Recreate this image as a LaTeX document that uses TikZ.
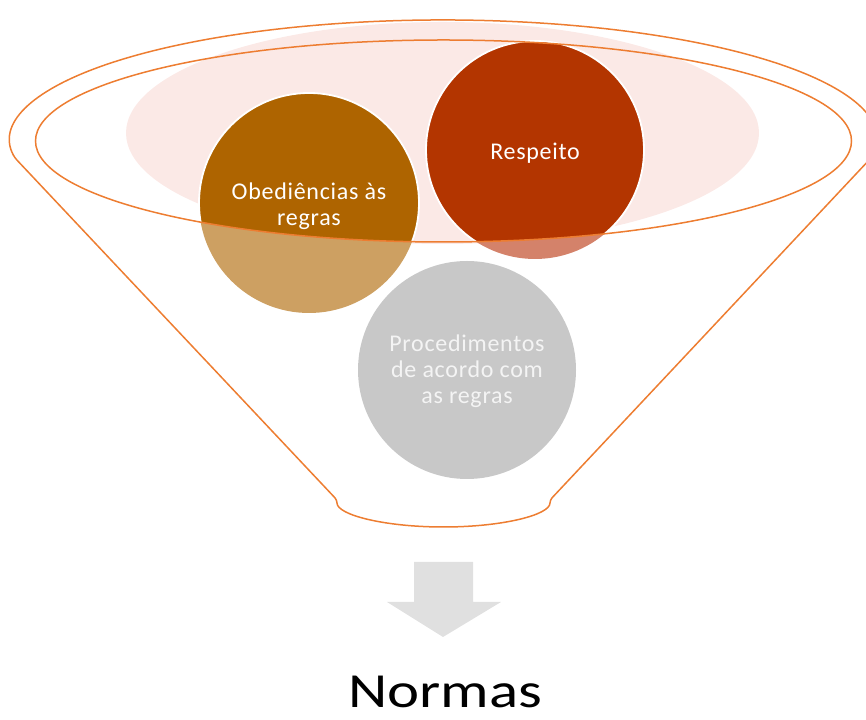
\documentclass[tikz,border=0pt]{standalone}
\usepackage{fontspec}
\setmainfont{Carlito}
\newfontfamily\circfont[LetterSpace=3]{Carlito}
\newfontfamily\bigfont[FakeStretch=1.24]{Carlito}
\definecolor{funnelorange}{HTML}{ED7D31}
\definecolor{pinkfill}{HTML}{FBE9E6}
\definecolor{obedark}{HTML}{AE6400}
\definecolor{obelight}{HTML}{CDA062}
\definecolor{resdark}{HTML}{B33500}
\definecolor{reslight}{HTML}{D4826A}
\definecolor{procgray}{HTML}{C8C8C8}
\definecolor{arrowgray}{HTML}{E0E0E0}
\definecolor{proctext}{HTML}{F4F4F4}
\tikzset{
  circlabel/.style={font=\circfont\fontsize{24}{26}\selectfont, text=white, align=center, inner sep=0pt},
  funnelline/.style={draw=funnelorange, line width=1.5pt},
  ring/.style={draw=white, line width=1.8pt}
}
\begin{document}
\begin{tikzpicture}[x=1pt,y=1pt]
\useasboundingbox (0,0) rectangle (866,719);
\begin{scope}
\clip (0,0) rectangle (866,719);
% pink background ellipse
\fill[pinkfill] (442.5,586) ellipse [x radius=316.5, y radius=111];
% circles, lighter base
\fill[obelight] (309,516) circle [radius=110];
\fill[reslight] (535,569) circle [radius=109];
\node[circle, fill=procgray, minimum size=218pt, inner sep=0pt] (proc) at (467,349) {};
% full colour inside funnel top
\begin{scope}
\clip (0,578) -- (0,719) -- (866,719) -- (866,578) -- (851.5,578)
  arc[start angle=0, end angle=-180, x radius=408, y radius=101] -- cycle;
\node[circle, fill=obedark, ring, minimum size=220pt, inner sep=0pt] (obe) at (309,516) {};
\node[circle, fill=resdark, ring, minimum size=218pt, inner sep=0pt] (res) at (535,569) {};
\end{scope}
% labels
\node[circlabel] (obet) at (309,513) {Obediências às\\regras};
\node[circlabel, anchor=base] (rest) at (535,559) {Respeito};
\node[circlabel, text=proctext] (proct) at (467,348) {Procedimentos\\de acordo com\\as regras};
% funnel outline
\draw[funnelline, rounded corners=3pt] (871.1,561.1)
  arc[start angle=-8.6, end angle=188.6, x radius=433, y radius=120]
  -- (337,219)
  arc[start angle=180, end angle=360, x radius=106.5, y radius=27]
  -- cycle;
\draw[funnelline] (443.5,578) ellipse [x radius=408, y radius=101];
\end{scope}
% arrow
\fill[arrowgray] (414,157) -- (473,157) -- (473,117) -- (501,117) -- (443,82)
  -- (387,117) -- (414,117) -- cycle;
\node[font=\bigfont\fontsize{49}{60}\selectfont, anchor=base, inner sep=0pt] (normas) at (445,12) {Normas};
\end{tikzpicture}
\end{document}
